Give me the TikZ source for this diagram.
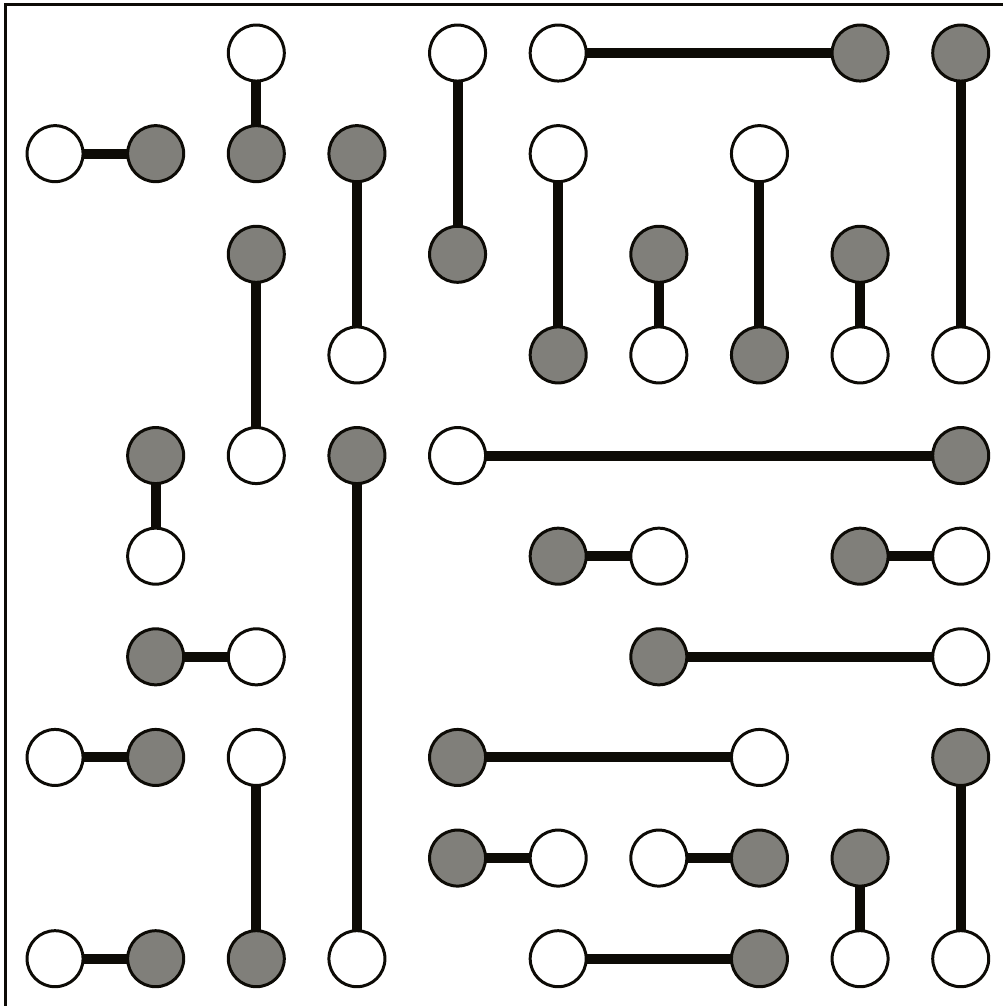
\documentclass[tikz,border=0pt]{standalone}
\usepackage{tikz}
\usetikzlibrary{backgrounds}
\definecolor{knotgray}{RGB}{128,127,122}
\definecolor{inkblack}{RGB}{13,11,6}

\begin{document}
\begin{tikzpicture}[x=1.006cm, y=1.006cm,
    knot/.style = {circle, draw = inkblack, line width = 0.85pt, minimum size = 0.56cm, inner sep = 0pt},
    knotW/.style = {knot, fill = white},
    knotG/.style = {knot, fill = knotgray},
    link/.style = {draw = inkblack, line width = 2.85pt}]
    % Größe der Bildumgebung
        \useasboundingbox (-0.547, -9.47) rectangle (9.42, 0.527);
        \draw[inkblack, line width = 0.85pt] (-0.497, -9.47) -- (-0.497, 0.487) -- (9.42, 0.487);

    % weiße Knoten (Zeile/Spalte)
        \foreach \r/\c in {0/2, 0/4, 0/5, 1/0, 1/5, 1/7, 3/3, 3/6, 3/8, 3/9, 4/2, 4/4, 5/1, 5/6, 5/9,
                           6/2, 6/9, 7/0, 7/2, 7/7, 8/5, 8/6, 9/0, 9/3, 9/5, 9/8, 9/9}
            \node[knotW] (p-\r-\c) at (\c, -\r) {};

    % graue Knoten (Zeile/Spalte)
        \foreach \r/\c in {0/8, 0/9, 1/1, 1/2, 1/3, 2/2, 2/4, 2/6, 2/8, 3/5, 3/7, 4/1, 4/3, 4/9, 5/5,
                           5/8, 6/1, 6/6, 7/1, 7/4, 7/9, 8/4, 8/7, 8/8, 9/1, 9/2, 9/7}
            \node[knotG] (p-\r-\c) at (\c, -\r) {};

    % Verbindungen
        \begin{pgfonlayer}{background}
        \foreach \a/\b in {0-2/1-2, 0-4/2-4, 0-5/0-8, 0-9/3-9, 1-0/1-1, 1-3/3-3, 1-5/3-5, 1-7/3-7,
                           2-2/4-2, 2-6/3-6, 2-8/3-8, 4-1/5-1, 4-3/9-3, 4-4/4-9, 5-5/5-6, 5-8/5-9,
                           6-1/6-2, 6-6/6-9, 7-0/7-1, 7-2/9-2, 7-4/7-7, 7-9/9-9, 8-4/8-5, 8-6/8-7,
                           8-8/9-8, 9-0/9-1, 9-5/9-7}
            \draw[link] (p-\a.center) -- (p-\b.center);
        \end{pgfonlayer}
\end{tikzpicture}
\end{document}
